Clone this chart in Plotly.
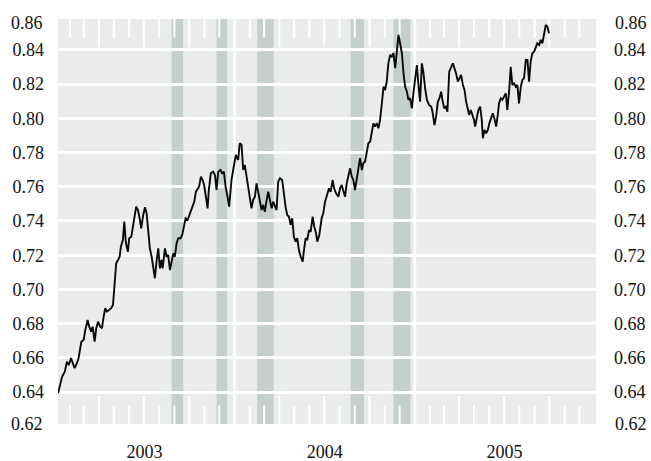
import plotly.graph_objects as go
from datetime import datetime, timedelta

# ---- data (dates as fractional years) ----
t_2003 = [2003.019, 2003.026, 2003.041, 2003.056, 2003.068, 2003.078, 2003.091, 2003.100, 2003.111, 2003.124,
          2003.133, 2003.148, 2003.161, 2003.170, 2003.183, 2003.192, 2003.203, 2003.211, 2003.222, 2003.231,
          2003.241, 2003.253, 2003.263, 2003.272, 2003.281, 2003.291, 2003.300, 2003.314, 2003.324, 2003.333,
          2003.342, 2003.352, 2003.361, 2003.368, 2003.379, 2003.387, 2003.396, 2003.407, 2003.414, 2003.426,
          2003.433, 2003.444, 2003.453, 2003.463, 2003.472, 2003.481,
          2003.492, 2003.502, 2003.511, 2003.520, 2003.529, 2003.539, 2003.548, 2003.557, 2003.567, 2003.576,
          2003.585, 2003.594, 2003.600, 2003.613, 2003.622, 2003.631, 2003.641, 2003.650, 2003.659, 2003.668,
          2003.678, 2003.687, 2003.700, 2003.709, 2003.718, 2003.728, 2003.739, 2003.748, 2003.757, 2003.767,
          2003.776, 2003.785, 2003.794, 2003.803, 2003.813, 2003.822, 2003.831, 2003.841, 2003.850, 2003.857,
          2003.868, 2003.881, 2003.891, 2003.900, 2003.909, 2003.922, 2003.931, 2003.941, 2003.950, 2003.961,
          2003.970, 2003.983, 2003.996]
v_2003 = [0.6394, 0.6431, 0.6489, 0.6519, 0.6577, 0.6558, 0.6599, 0.6570, 0.6540, 0.6570,
          0.6599, 0.6694, 0.6704, 0.6763, 0.6821, 0.6782, 0.6753, 0.6782, 0.6694, 0.6773,
          0.6811, 0.6782, 0.6773, 0.6840, 0.6890, 0.6870, 0.6880, 0.6890, 0.6909, 0.7036,
          0.7153, 0.7172, 0.7191, 0.7250, 0.7289, 0.7396, 0.7270, 0.7220, 0.7299, 0.7308,
          0.7347, 0.7425, 0.7484, 0.7464, 0.7416, 0.7357,
          0.7435, 0.7480, 0.7445, 0.7347, 0.7240, 0.7191, 0.7123, 0.7065, 0.7172, 0.7240,
          0.7123, 0.7172, 0.7123, 0.7240, 0.7191, 0.7201, 0.7113, 0.7153, 0.7211, 0.7191,
          0.7270, 0.7299, 0.7299, 0.7318, 0.7377, 0.7416, 0.7406, 0.7435, 0.7454, 0.7484,
          0.7513, 0.7571, 0.7591, 0.7601, 0.7659, 0.7640, 0.7611, 0.7523, 0.7474, 0.7581,
          0.7679, 0.7688, 0.7669, 0.7581, 0.7688, 0.7698, 0.7679, 0.7688, 0.7601, 0.7542,
          0.7484, 0.7640, 0.7718]

t_2004 = [2004.007, 2004.020, 2004.029, 2004.039, 2004.048, 2004.057, 2004.067, 2004.076, 2004.085, 2004.094,
          2004.103, 2004.113, 2004.122, 2004.131, 2004.141, 2004.150, 2004.159, 2004.168, 2004.178, 2004.187,
          2004.196, 2004.206, 2004.214, 2004.224, 2004.233, 2004.242, 2004.252, 2004.264, 2004.274, 2004.283,
          2004.292, 2004.302, 2004.311, 2004.320, 2004.329, 2004.339, 2004.348, 2004.357, 2004.367, 2004.378,
          2004.385, 2004.394, 2004.403, 2004.413, 2004.422, 2004.433, 2004.442, 2004.452, 2004.459, 2004.470,
          2004.483, 2004.492, 2004.502, 2004.511, 2004.524, 2004.533,
          2004.544, 2004.552, 2004.563, 2004.576, 2004.585, 2004.594, 2004.603, 2004.613, 2004.622, 2004.631,
          2004.641, 2004.650, 2004.659, 2004.668, 2004.678, 2004.687, 2004.696, 2004.706, 2004.714, 2004.724,
          2004.733, 2004.742, 2004.752, 2004.761, 2004.770, 2004.779, 2004.789, 2004.798, 2004.807, 2004.817,
          2004.826, 2004.835, 2004.844, 2004.853, 2004.863, 2004.872, 2004.881, 2004.891, 2004.900, 2004.909,
          2004.918, 2004.928, 2004.937, 2004.946, 2004.956, 2004.964, 2004.974, 2004.983, 2004.992]
v_2004 = [0.7786, 0.7757, 0.7854, 0.7845, 0.7698, 0.7727, 0.7650, 0.7601, 0.7523, 0.7474,
          0.7523, 0.7542, 0.7620, 0.7571, 0.7494, 0.7464, 0.7494, 0.7454, 0.7523, 0.7571,
          0.7523, 0.7474, 0.7513, 0.7484, 0.7464, 0.7630, 0.7650, 0.7640, 0.7542, 0.7484,
          0.7435, 0.7425, 0.7377, 0.7416, 0.7308, 0.7279, 0.7299, 0.7230, 0.7191, 0.7162,
          0.7230, 0.7299, 0.7289, 0.7347, 0.7337, 0.7425, 0.7367, 0.7328, 0.7279, 0.7318,
          0.7416, 0.7445, 0.7513, 0.7542, 0.7591, 0.7571,
          0.7640, 0.7591, 0.7562, 0.7542, 0.7591, 0.7611, 0.7581, 0.7542, 0.7620, 0.7669,
          0.7708, 0.7659, 0.7640, 0.7581, 0.7659, 0.7718, 0.7767, 0.7698, 0.7737, 0.7747,
          0.7805, 0.7854, 0.7864, 0.7913, 0.7971, 0.7952, 0.7971, 0.7942, 0.7991, 0.8088,
          0.8185, 0.8166, 0.8215, 0.8322, 0.8371, 0.8361, 0.8381, 0.8293, 0.8419, 0.8488,
          0.8439, 0.8381, 0.8264, 0.8185, 0.8156, 0.8108, 0.8118, 0.8059, 0.8147]

t_2005 = [2005.002, 2005.011, 2005.020, 2005.029, 2005.039, 2005.048, 2005.057, 2005.067, 2005.079, 2005.091,
          2005.098, 2005.109, 2005.118, 2005.128, 2005.137, 2005.146, 2005.153, 2005.163, 2005.172, 2005.181,
          2005.191, 2005.202, 2005.211, 2005.220, 2005.229, 2005.239, 2005.248, 2005.257, 2005.267, 2005.276,
          2005.285, 2005.294, 2005.302, 2005.311, 2005.320, 2005.329, 2005.335, 2005.344, 2005.353, 2005.363,
          2005.372, 2005.378, 2005.387, 2005.396, 2005.406, 2005.414, 2005.424, 2005.433, 2005.442, 2005.452,
          2005.461, 2005.468, 2005.478, 2005.487, 2005.496, 2005.506, 2005.514, 2005.524, 2005.533, 2005.542,
          2005.552, 2005.561, 2005.570, 2005.579, 2005.589, 2005.598, 2005.607, 2005.617, 2005.626, 2005.635,
          2005.644, 2005.653, 2005.663, 2005.672, 2005.681, 2005.691, 2005.700, 2005.709, 2005.718, 2005.728,
          2005.737, 2005.746]
v_2005 = [0.8225, 0.8312, 0.8195, 0.8098, 0.8322, 0.8264, 0.8176, 0.8108, 0.8078, 0.8068,
          0.8039, 0.7961, 0.8010, 0.8098, 0.8118, 0.8156, 0.8108, 0.8059, 0.8068, 0.8039,
          0.8273, 0.8302, 0.8322, 0.8293, 0.8264, 0.8215, 0.8235, 0.8254, 0.8195, 0.8166,
          0.8098, 0.8059, 0.8020, 0.8049, 0.8020, 0.7991, 0.7952, 0.8010, 0.8049, 0.8068,
          0.7991, 0.7884, 0.7932, 0.7913, 0.7932, 0.7971, 0.8001, 0.8030, 0.8001, 0.7952,
          0.8020, 0.8088, 0.8118, 0.8108, 0.8127, 0.8147, 0.8049, 0.8156, 0.8302, 0.8195,
          0.8205, 0.8185, 0.8195, 0.8088, 0.8185, 0.8225, 0.8235, 0.8342, 0.8342, 0.8215,
          0.8332, 0.8381, 0.8390, 0.8419, 0.8439, 0.8429, 0.8459, 0.8439, 0.8498, 0.8546,
          0.8536, 0.8498]

# shaded periods (start, end) as fractional years
band_starts = [2003.650, 2003.900, 2004.126, 2004.644, 2004.881]
band_ends = [2003.714, 2003.959, 2004.217, 2004.718, 2004.976]

x_range = [2003.0183, 2006.0072]
y_range = [0.6213, 0.8581]
y_ticks = [0.64, 0.66, 0.68, 0.70, 0.72, 0.74, 0.76, 0.78, 0.80, 0.82, 0.84]
y_edge_labels = ["0.86", "0.62"]
year_labels = ["2003", "2004", "2005"]

assert len(t_2003) == len(v_2003) and len(t_2004) == len(v_2004) and len(t_2005) == len(v_2005)


def fy(t):
    y = int(t)
    start = datetime(y, 1, 1)
    n = (datetime(y + 1, 1, 1) - start).days
    return start + timedelta(days=(t - y) * n)


dates = [fy(t) for t in t_2003 + t_2004 + t_2005]
values = v_2003 + v_2004 + v_2005

BG = "#e9eceb"
BAND = "#c5cfcc"
TXT = "#111111"
FONT = "Liberation Serif"
FS = 18
PLOT_H = 405.0

fig = go.Figure()
fig.add_trace(go.Scatter(x=dates, y=values, mode="lines",
                         line=dict(color="#0a0a0a", width=1.9), hoverinfo="skip", showlegend=False))
fig.add_trace(go.Scatter(x=dates, y=values, mode="lines", yaxis="y2",
                         line=dict(color="rgba(0,0,0,0)", width=0), hoverinfo="skip", showlegend=False))

shapes = []
for s, e in zip(band_starts, band_ends):
    shapes.append(dict(type="rect", xref="x", yref="paper", x0=fy(s), x1=fy(e), y0=0, y1=1,
                       fillcolor=BAND, line=dict(width=0), layer="between"))
for yr in [2004, 2005]:
    d = datetime(yr, 1, 1)
    shapes.append(dict(type="line", xref="x", yref="paper", x0=d, x1=d, y0=0, y1=1,
                       line=dict(color="white", width=2.7), layer="between"))
for yr in [2003, 2004, 2005]:
    for m in range(2, 13):
        d = datetime(yr, m, 1)
        ln = 28.0 if m in (4, 7, 10) else 18.5
        f = ln / PLOT_H
        shapes.append(dict(type="line", xref="x", yref="paper", x0=d, x1=d, y0=1, y1=1 - f,
                           line=dict(color="white", width=2), layer="between"))
        shapes.append(dict(type="line", xref="x", yref="paper", x0=d, x1=d, y0=0, y1=f,
                           line=dict(color="white", width=2), layer="between"))

annotations = []
for lab, yp, ys in [(y_edge_labels[0], 1, -4), (y_edge_labels[1], 0, 0)]:
    annotations.append(dict(text=lab, xref="paper", yref="paper", x=0, y=yp, xanchor="right",
                            yanchor="middle", xshift=-13, yshift=ys, showarrow=False,
                            font=dict(family=FONT, size=FS, color=TXT)))
    annotations.append(dict(text=lab, xref="paper", yref="paper", x=1, y=yp, xanchor="left",
                            yanchor="middle", xshift=17, yshift=ys, showarrow=False,
                            font=dict(family=FONT, size=FS, color=TXT)))

yaxis_common = dict(range=y_range, tickvals=y_ticks, ticktext=[f"{v:.2f}" for v in y_ticks],
                    ticks="", showline=False, zeroline=False, automargin=False,
                    tickfont=dict(family=FONT, size=FS, color=TXT))

fig.update_layout(
    width=651, height=461,
    margin=dict(l=58, r=55, t=19, b=37, autoexpand=False),
    paper_bgcolor="white", plot_bgcolor=BG,
    showlegend=False,
    font=dict(family=FONT, size=FS, color=TXT),
    xaxis=dict(range=[fy(x_range[0]), fy(x_range[1])], type="date",
               tickvals=[datetime(y, 7, 2) for y in (2003, 2004, 2005)], ticktext=year_labels,
               ticks="", showgrid=False, zeroline=False, showline=False, automargin=False,
               ticklabelstandoff=15,
               tickfont=dict(family=FONT, size=FS, color=TXT)),
    yaxis=dict(**yaxis_common, showgrid=True, gridcolor="white", gridwidth=2.5,
               side="left", ticklabelstandoff=13),
    yaxis2=dict(**yaxis_common, showgrid=False, overlaying="y", side="right",
                ticklabelstandoff=17),
    shapes=shapes,
    annotations=annotations,
)

fig.write_html("out.html", config={"displayModeBar": False},
               post_script="document.body.style.margin='0';document.body.style.padding='0';")
